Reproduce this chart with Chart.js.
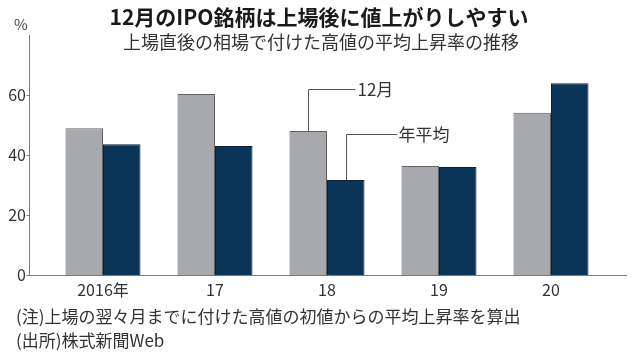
<!DOCTYPE html>
<html>
<head>
<meta charset="utf-8">
<script src="https://cdn.jsdelivr.net/npm/chart.js@4/dist/chart.umd.min.js"></script>
<style>
html,body{margin:0;padding:0;background:#fff;}
#wrap{width:638px;height:357px;}
</style>
</head>
<body>
<div id="wrap"><canvas id="c" width="638" height="357"></canvas></div>
<script>
const categories = ['2016年', '17', '18', '19', '20'];
const december = [48.9, 60.3, 48, 36.3, 54.1];
const annual = [43.6, 43, 31.7, 36, 63.9];
const yTicks = [0, 20, 40, 60];
const titleText = '12月のIPO銘柄は上場後に値上がりしやすい';
const subtitleText = '上場直後の相場で付けた高値の平均上昇率の推移';
const unitText = '%';
const noteText = '(注)上場の翌々月までに付けた高値の初値からの平均上昇率を算出';
const sourceText = '(出所)株式新聞Web';
const seriesNames = ['12月', '年平均'];

const FONT = '"Noto Sans CJK JP", "Noto Sans", sans-serif';

const decor = {
  id: 'decor',
  afterDatasetsDraw(chart) {
    const ctx = chart.ctx;
    const y = chart.scales.y;
    ctx.save();
    // axes
    ctx.strokeStyle = '#7a7a7a';
    ctx.lineWidth = 1;
    ctx.beginPath();
    ctx.moveTo(29.5, y.getPixelForValue(80));
    ctx.lineTo(29.5, y.getPixelForValue(0) + 0.5);
    ctx.lineTo(627, y.getPixelForValue(0) + 0.5);
    yTicks.forEach(v => {
      const py = Math.round(y.getPixelForValue(v)) + 0.5;
      ctx.moveTo(26.5, py);
      ctx.lineTo(29.5, py);
    });
    ctx.stroke();

    // annotation leaders
    ctx.strokeStyle = '#555';
    ctx.fillStyle = '#333';
    ctx.font = '17px ' + FONT;
    ctx.textBaseline = 'middle';
    ctx.textAlign = 'left';
    const e0 = chart.getDatasetMeta(0).data[2];
    const e1 = chart.getDatasetMeta(1).data[2];
    const x0 = Math.round(e0.x) + 0.5, y0 = Math.round(y.getPixelForValue(62)) + 0.5;
    ctx.beginPath();
    ctx.moveTo(x0, e0.y);
    ctx.lineTo(x0, y0);
    ctx.lineTo(x0 + 47, y0);
    ctx.stroke();
    ctx.fillText(seriesNames[0], x0 + 49, y0);
    const x1 = Math.round(e1.x) + 0.5, y1 = Math.round(y.getPixelForValue(47)) + 0.5;
    ctx.beginPath();
    ctx.moveTo(x1, e1.y);
    ctx.lineTo(x1, y1);
    ctx.lineTo(x1 + 51, y1);
    ctx.stroke();
    ctx.fillText(seriesNames[1], x1 + 52, y1);

    // title etc.
    ctx.textAlign = 'center';
    ctx.fillStyle = '#1a1a1a';
    ctx.font = 'bold 21px ' + FONT;
    ctx.fillText(titleText, 319, 17.5);
    ctx.fillStyle = '#333';
    ctx.font = '18px ' + FONT;
    ctx.fillText(subtitleText, 321, 42);
    ctx.font = '15px ' + FONT;
    ctx.fillStyle = '#444';
    ctx.fillText(unitText, 21, 24);
    ctx.textAlign = 'left';
    ctx.font = '17px ' + FONT;
    ctx.fillStyle = '#333';
    ctx.fillText(noteText, 16, 317);
    ctx.fillText(sourceText, 16, 341);
    ctx.restore();
  }
};

new Chart(document.getElementById('c'), {
  type: 'bar',
  data: {
    labels: categories,
    datasets: [
      { label: seriesNames[0], data: december, backgroundColor: '#a8a9ad', borderColor: '#606165',
        borderWidth: { top: 1, left: 1, right: 1, bottom: 0 }, categoryPercentage: 0.67, barPercentage: 1.0 },
      { label: seriesNames[1], data: annual, backgroundColor: '#0b3558', borderColor: '#06213a',
        borderWidth: { top: 1, left: 1, right: 1, bottom: 0 }, categoryPercentage: 0.67, barPercentage: 1.0 }
    ]
  },
  options: {
    responsive: false,
    animation: false,
    layout: { padding: { top: 35, right: 31, left: 0, bottom: 0 } },
    plugins: { legend: { display: false }, tooltip: { enabled: false }, title: { display: false } },
    scales: {
      x: {
        grid: { display: false, drawTicks: false },
        border: { display: false },
        ticks: { font: { size: 16, family: FONT }, color: '#333', padding: 5 },
        afterFit: s => { s.height = 82; }
      },
      y: {
        min: 0, max: 80,
        grid: { display: false, drawTicks: false },
        border: { display: false },
        ticks: { stepSize: 20, padding: 21, font: { size: 16, family: FONT }, color: '#333',
          callback: v => yTicks.includes(v) ? String(v) : '' },
        afterFit: s => { s.width = 47; }
      }
    }
  },
  plugins: [decor]
});
</script>
</body>
</html>
